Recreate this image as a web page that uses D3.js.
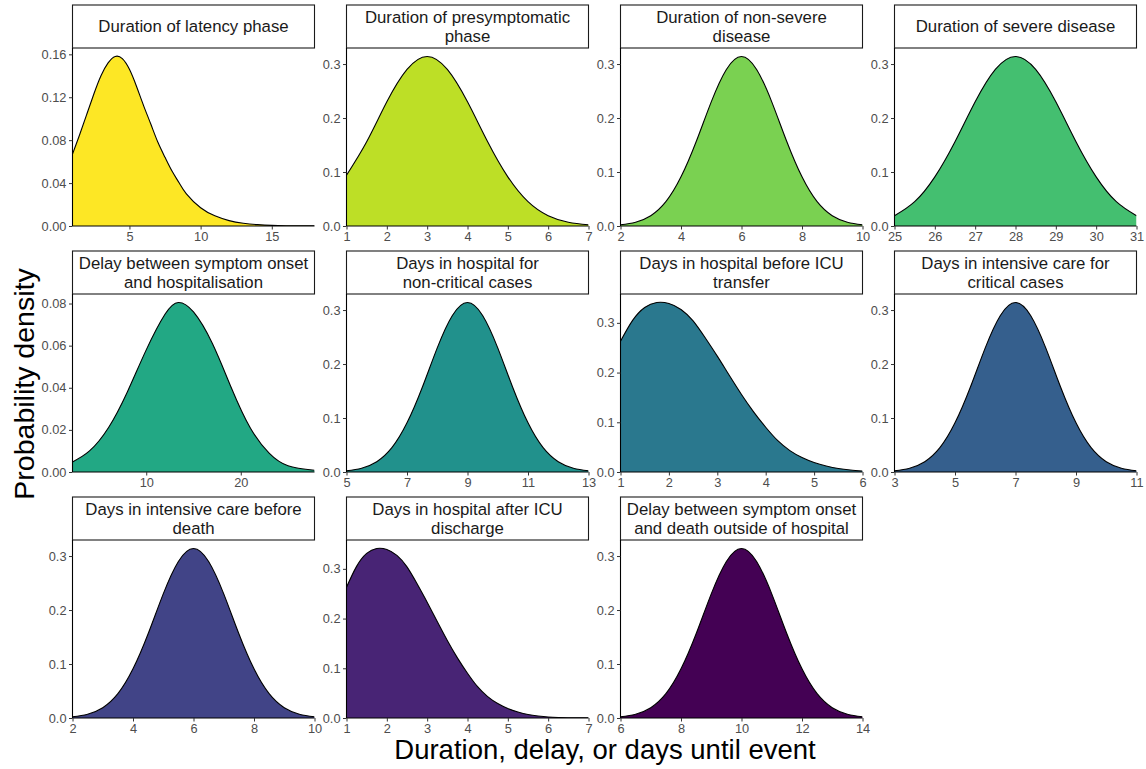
<!DOCTYPE html>
<html lang="en">
<head>
    <meta charset="utf-8">
    <script src="https://cdn.jsdelivr.net/npm/d3@7"></script>
    <style>
        body { margin: 0; background: #fff; }
        text { font-family: "Liberation Sans", Arial, sans-serif; }
    </style>
</head>

<body>
<div id="svg"></div>

<script>
    // panel titles (one array entry per line of the strip label)
    var titles = [
        ["Duration of latency phase"],
        ["Duration of presymptomatic", "phase"],
        ["Duration of non-severe", "disease"],
        ["Duration of severe disease"],
        ["Delay between symptom onset", "and hospitalisation"],
        ["Days in hospital for", "non-critical cases"],
        ["Days in hospital before ICU", "transfer"],
        ["Days in intensive care for", "critical cases"],
        ["Days in intensive care before", "death"],
        ["Days in hospital after ICU", "discharge"],
        ["Delay between symptom onset", "and death outside of hospital"]
    ];

    // density curves
    var latencyDays = [1, 1.5, 2, 2.5, 3, 3.5, 4, 4.5, 5, 5.5, 6, 6.5, 7, 7.5, 8, 8.5, 9, 10, 11, 12, 13, 14, 15, 16, 17, 18];
    var latencyDens = [0.067, 0.085, 0.104, 0.123, 0.140, 0.152, 0.158, 0.156, 0.146, 0.130, 0.112, 0.095, 0.078, 0.064, 0.051, 0.040, 0.030, 0.017, 0.0095, 0.005, 0.0026, 0.0013, 0.0006, 0.0003, 0.00015, 0.0001];

    var presympDays = [1, 1.5, 2, 2.5, 3, 3.5, 4, 4.5, 5, 5.5, 6, 6.5, 7];
    var presympDens = [0.094, 0.156, 0.230, 0.290, 0.314, 0.290, 0.230, 0.156, 0.091, 0.045, 0.019, 0.007, 0.0022];

    var nonSevereDays = [2, 2.5, 3, 3.5, 4, 4.5, 5, 5.5, 6, 6.5, 7, 7.5, 8, 8.5, 9, 9.5, 10];
    var nonSevereDens = [0.0022, 0.007, 0.019, 0.045, 0.091, 0.156, 0.230, 0.290, 0.314, 0.290, 0.230, 0.156, 0.091, 0.045, 0.019, 0.007, 0.0022];

    var severeDays = [25, 25.5, 26, 26.5, 27, 27.5, 28, 28.5, 29, 29.5, 30, 30.5, 31];
    var severeDens = [0.019, 0.045, 0.091, 0.156, 0.230, 0.290, 0.314, 0.290, 0.230, 0.156, 0.091, 0.045, 0.019];

    var onsetHospDays = [2.2, 4, 6, 8, 10, 12, 13.4, 15, 17, 19, 21, 23, 25, 27.8];
    var onsetHospDens = [0.0048, 0.010, 0.021, 0.038, 0.058, 0.075, 0.0805, 0.076, 0.061, 0.040, 0.021, 0.009, 0.003, 0.0008];

    var nonCritDays = [5, 5.5, 6, 6.5, 7, 7.5, 8, 8.5, 9, 9.5, 10, 10.5, 11, 11.5, 12, 12.5, 13];
    var nonCritDens = [0.0022, 0.007, 0.019, 0.045, 0.091, 0.156, 0.230, 0.290, 0.314, 0.290, 0.230, 0.156, 0.091, 0.045, 0.019, 0.007, 0.0022];

    var preIcuDays = [1, 1.25, 1.5, 1.75, 2, 2.25, 2.5, 2.75, 3, 3.25, 3.5, 3.75, 4, 4.25, 4.5, 4.75, 5, 5.25, 5.5, 5.75, 6];
    var preIcuDens = [0.263, 0.305, 0.331, 0.341, 0.339, 0.327, 0.304, 0.270, 0.233, 0.194, 0.156, 0.121, 0.090, 0.063, 0.043, 0.029, 0.019, 0.012, 0.007, 0.004, 0.002];

    var icuCritDays = [3, 3.5, 4, 4.5, 5, 5.5, 6, 6.5, 7, 7.5, 8, 8.5, 9, 9.5, 10, 10.5, 11];
    var icuCritDens = [0.0022, 0.007, 0.019, 0.045, 0.091, 0.156, 0.230, 0.290, 0.314, 0.290, 0.230, 0.156, 0.091, 0.045, 0.019, 0.007, 0.0022];

    var icuDeathDays = [2, 2.5, 3, 3.5, 4, 4.5, 5, 5.5, 6, 6.5, 7, 7.5, 8, 8.5, 9, 9.5, 10];
    var icuDeathDens = [0.0022, 0.007, 0.019, 0.045, 0.091, 0.156, 0.230, 0.290, 0.314, 0.290, 0.230, 0.156, 0.091, 0.045, 0.019, 0.007, 0.0022];

    var postIcuDays = [1, 1.25, 1.5, 1.75, 2, 2.25, 2.5, 2.75, 3, 3.25, 3.5, 3.75, 4, 4.25, 4.5, 4.75, 5, 5.25, 5.5, 5.75, 6, 6.25, 6.5, 6.75, 7];
    var postIcuDens = [0.263, 0.305, 0.331, 0.341, 0.339, 0.327, 0.304, 0.270, 0.233, 0.194, 0.156, 0.121, 0.090, 0.063, 0.043, 0.029, 0.019, 0.012, 0.007, 0.004, 0.002, 0.001, 0.0006, 0.0003, 0.0002];

    var deathOutDays = [6, 6.5, 7, 7.5, 8, 8.5, 9, 9.5, 10, 10.5, 11, 11.5, 12, 12.5, 13, 13.5, 14];
    var deathOutDens = [0.0022, 0.007, 0.019, 0.045, 0.091, 0.156, 0.230, 0.290, 0.314, 0.290, 0.230, 0.156, 0.091, 0.045, 0.019, 0.007, 0.0022];

    // tick labels
    var xTicks = [
        [5, 10, 15],
        [1, 2, 3, 4, 5, 6, 7],
        [2, 4, 6, 8, 10],
        [25, 26, 27, 28, 29, 30, 31],
        [10, 20],
        [5, 7, 9, 11, 13],
        [1, 2, 3, 4, 5, 6],
        [3, 5, 7, 9, 11],
        [2, 4, 6, 8, 10],
        [1, 2, 3, 4, 5, 6, 7],
        [6, 8, 10, 12, 14]
    ];
    var yTicks = [
        [0, 0.04, 0.08, 0.12, 0.16],
        [0, 0.1, 0.2, 0.3],
        [0, 0.1, 0.2, 0.3],
        [0, 0.1, 0.2, 0.3],
        [0, 0.02, 0.04, 0.06, 0.08],
        [0, 0.1, 0.2, 0.3],
        [0, 0.1, 0.2, 0.3],
        [0, 0.1, 0.2, 0.3],
        [0, 0.1, 0.2, 0.3],
        [0, 0.1, 0.2, 0.3],
        [0, 0.1, 0.2, 0.3]
    ];

    var days = [latencyDays, presympDays, nonSevereDays, severeDays, onsetHospDays, nonCritDays,
                preIcuDays, icuCritDays, icuDeathDays, postIcuDays, deathOutDays];
    var dens = [latencyDens, presympDens, nonSevereDens, severeDens, onsetHospDens, nonCritDens,
                preIcuDens, icuCritDens, icuDeathDens, postIcuDens, deathOutDens];

    // viridis, yellow first
    var colors = d3.quantize(d3.interpolateViridis, 11).reverse();

    var width = 1146, height = 769;
    var colLeft = [72.5, 346.5, 620.5, 894.5],
        rowTop = [5, 251, 497],
        panelW = 242, stripH = 43, plotH = 178;

    var svg = d3.select("#svg").append("svg")
        .attr("width", width)
        .attr("height", height);

    titles.forEach(function(t, i) {
        var left = colLeft[i % 4], top = rowTop[Math.floor(i / 4)];
        var g = svg.append("g").attr("transform", "translate(" + left + "," + top + ")");

        // strip
        g.append("rect")
            .attr("x", 0).attr("y", 0)
            .attr("width", panelW).attr("height", stripH)
            .attr("fill", "#fff").attr("stroke", "#1a1a1a").attr("stroke-width", 1.1);
        var lineOff = t.length == 1 ? [0] : [-9.3, 9.3];
        t.forEach(function(line, j) {
            g.append("text")
                .attr("x", panelW / 2)
                .attr("y", stripH / 2 + 1.5 + lineOff[j])
                .attr("text-anchor", "middle")
                .attr("dominant-baseline", "middle")
                .style("font-size", "16.8px")
                .style("fill", "#1a1a1a")
                .text(line);
        });

        var pts = d3.zip(days[i], dens[i]);
        var x = d3.scaleLinear().domain(d3.extent(days[i])).range([0, panelW]);
        var y = d3.scaleLinear().domain([0, d3.max(dens[i]) * 1.05]).range([stripH + plotH, stripH]);

        var area = d3.area()
            .x(function(d) { return x(d[0]); })
            .y0(y(0))
            .y1(function(d) { return y(d[1]); })
            .curve(d3.curveNatural);
        var line = d3.line()
            .x(function(d) { return x(d[0]); })
            .y(function(d) { return y(d[1]); })
            .curve(d3.curveNatural);

        // keep the fill inside the panel
        var clipId = "clip" + i;
        g.append("clipPath").attr("id", clipId).append("rect")
            .attr("x", 0).attr("y", stripH).attr("width", panelW).attr("height", plotH);
        var pg = g.append("g").attr("clip-path", "url(#" + clipId + ")");

        pg.append("path").datum(pts).attr("d", area).attr("fill", colors[i]);
        pg.append("path").datum(pts).attr("d", line)
            .attr("fill", "none").attr("stroke", "#000").attr("stroke-width", 1.1);

        var fmt = d3.max(yTicks[i]) < 0.2 ? d3.format(".2f") : d3.format(".1f");

        var xAxis = g.append("g")
            .attr("transform", "translate(0," + (stripH + plotH) + ")")
            .call(d3.axisBottom(x).tickValues(xTicks[i]).tickSize(3.5).tickPadding(2).tickFormat(d3.format("d")));
        var yAxis = g.append("g")
            .call(d3.axisLeft(y).tickValues(yTicks[i]).tickSize(3.5).tickPadding(2.5).tickFormat(fmt));

        [xAxis, yAxis].forEach(function(a) {
            a.attr("font-size", null).attr("font-family", null);
            a.select(".domain").attr("stroke", "#000").attr("stroke-width", 1.1);
            a.selectAll(".tick line").attr("stroke", "#333");
            a.selectAll(".tick text")
                .style("font-size", "12.8px")
                .style("font-family", "'Liberation Sans', Arial, sans-serif")
                .attr("fill", "#4d4d4d");
        });
        // ggplot style: axis line without end caps
        yAxis.select(".domain").attr("d", "M0," + stripH + "V" + (stripH + plotH));
        xAxis.select(".domain").attr("d", "M0,0H" + panelW);
    });

    svg.append("text")
        .attr("x", 605)
        .attr("y", 759)
        .attr("text-anchor", "middle")
        .style("font-size", "27.5px")
        .style("fill", "#000")
        .text("Duration, delay, or days until event");

    svg.append("text")
        .attr("transform", "translate(34,384) rotate(-90)")
        .attr("text-anchor", "middle")
        .style("font-size", "28.5px")
        .style("fill", "#000")
        .text("Probability density");
</script>
</body>
</html>
